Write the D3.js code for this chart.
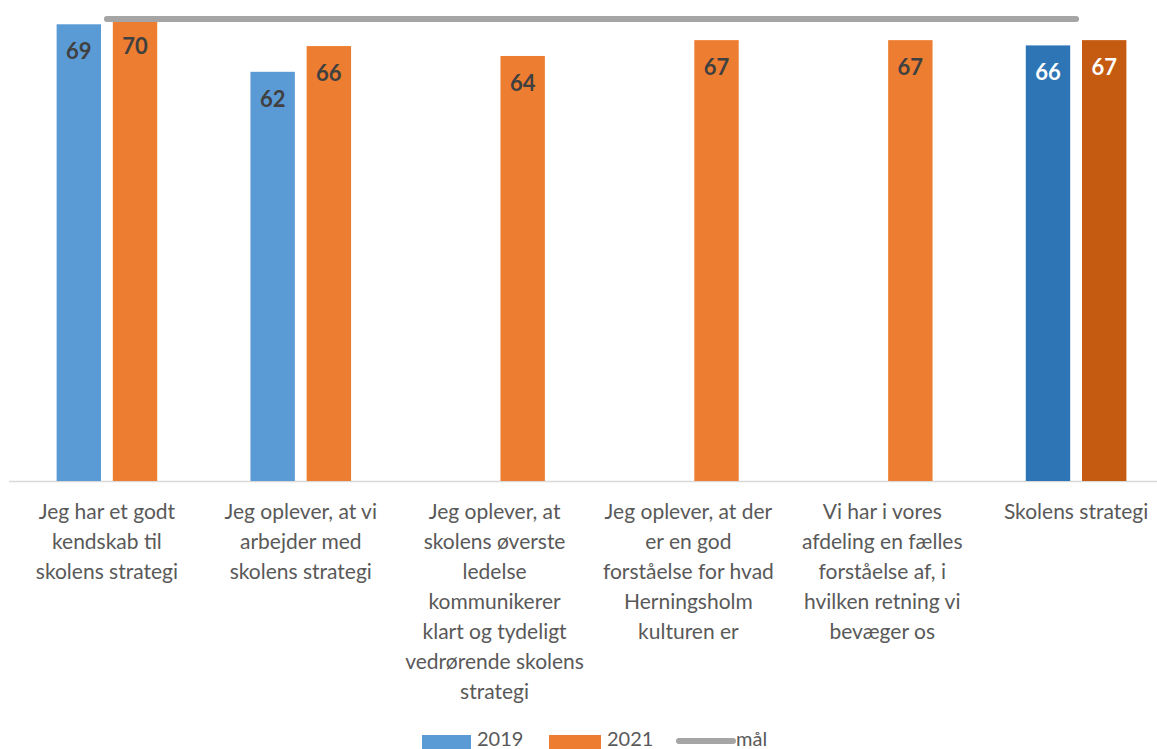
<!DOCTYPE html>
<html>
<head>
<meta charset="utf-8">
<script src="https://cdn.jsdelivr.net/npm/d3@7"></script>
<style>
  html, body { margin: 0; padding: 0; background: #fff; }
  svg { display: block; }
</style>
</head>
<body>
<svg id="chart" width="1157" height="749"></svg>
<script>
// ---- data ----
const categories = [
  ["Jeg har et godt", "kendskab til", "skolens strategi"],
  ["Jeg oplever, at vi", "arbejder med", "skolens strategi"],
  ["Jeg oplever, at", "skolens øverste", "ledelse", "kommunikerer", "klart og tydeligt", "vedrørende skolens", "strategi"],
  ["Jeg oplever, at der", "er en god", "forståelse for hvad", "Herningsholm", "kulturen er"],
  ["Vi har i vores", "afdeling en fælles", "forståelse af, i", "hvilken retning vi", "bevæger os"],
  ["Skolens strategi"]
];
const series2019 = [69.2, 62.0, null, null, null, 66.0];
const series2021 = [70.0, 65.9, 64.4, 66.8, 66.8, 66.8];
const seriesMaal = [70, 70, 70, 70, 70, 70];
const labels2019 = ["69", "62", null, null, null, "66"];
const labels2021 = ["70", "66", "64", "67", "67", "67"];
const seriesNames = ["2019", "2021", "mål"];

// ---- layout ----
const svg = d3.select("#chart");
const font = "Lato, 'Open Sans', sans-serif";
const baseY = 481;

const x0 = d3.scaleBand().domain(d3.range(categories.length)).range([10, 1173]).paddingInner(0).paddingOuter(0);
const x1 = d3.scaleBand().domain(["2019", "2021"]).range([x0.bandwidth()/2 - 50.3, x0.bandwidth()/2 + 50.3]).paddingInner(0.21).paddingOuter(0);
const y = d3.scaleLinear().domain([0, 72.88]).range([baseY, 0]);

const colors = { "2019": "#5B9BD5", "2021": "#ED7D31" };
const darkColors = { "2019": "#2E75B6", "2021": "#C55A11" };

// baseline
svg.append("line").attr("x1", 9).attr("x2", 1157).attr("y1", baseY + 0.5).attr("y2", baseY + 0.5)
  .attr("stroke", "#d9d9d9").attr("stroke-width", 1.5);

const barData = [];
categories.forEach((c, i) => {
  const last = i === categories.length - 1;
  if (series2019[i] != null) barData.push({ i, s: "2019", v: series2019[i], label: labels2019[i], dark: last });
  if (series2021[i] != null) barData.push({ i, s: "2021", v: series2021[i], label: labels2021[i], dark: last });
});

const bars = svg.append("g");
bars.selectAll("rect").data(barData).join("rect")
  .attr("x", d => x0(d.i) + x1(d.s))
  .attr("width", x1.bandwidth())
  .attr("y", d => y(d.v))
  .attr("height", d => baseY - y(d.v))
  .attr("fill", d => d.dark ? darkColors[d.s] : colors[d.s]);

bars.selectAll("text").data(barData).join("text")
  .attr("x", d => x0(d.i) + x1(d.s) + x1.bandwidth()/2)
  .attr("y", d => y(d.v) + 35)
  .attr("text-anchor", "middle")
  .attr("font-family", font)
  .attr("font-weight", "bold")
  .attr("font-size", 22)
  .attr("fill", d => d.dark ? "#ffffff" : "#404040")
  .text(d => d.label);

// mål line
const line = d3.line().x((d, i) => x0(i) + x0.bandwidth()/2).y(d => y(d));
svg.append("path").datum(seriesMaal)
  .attr("d", line)
  .attr("fill", "none")
  .attr("stroke", "#A5A5A5")
  .attr("stroke-width", 6)
  .attr("stroke-linecap", "round");

// category labels
const catG = svg.append("g");
categories.forEach((lines, i) => {
  const t = catG.append("text")
    .attr("x", x0(i) + x0.bandwidth()/2)
    .attr("y", 519)
    .attr("text-anchor", "middle")
    .attr("font-family", font)
    .attr("font-size", 21)
    .attr("fill", "#595959");
  lines.forEach((l, k) => {
    t.append("tspan").attr("x", x0(i) + x0.bandwidth()/2).attr("y", 519 + k * 30).text(l);
  });
});

// legend
const leg = svg.append("g").attr("font-family", font).attr("font-size", 20).attr("fill", "#595959");
leg.append("rect").attr("x", 422).attr("y", 735).attr("width", 49).attr("height", 14).attr("fill", colors["2019"]);
leg.append("text").attr("x", 477).attr("y", 746).text(seriesNames[0]);
leg.append("rect").attr("x", 549).attr("y", 735).attr("width", 52).attr("height", 14).attr("fill", colors["2021"]);
leg.append("text").attr("x", 607).attr("y", 746).text(seriesNames[1]);
leg.append("line").attr("x1", 679).attr("x2", 733).attr("y1", 741).attr("y2", 741)
  .attr("stroke", "#A5A5A5").attr("stroke-width", 6).attr("stroke-linecap", "round");
leg.append("text").attr("x", 736).attr("y", 746).text(seriesNames[2]);
</script>
</body>
</html>
